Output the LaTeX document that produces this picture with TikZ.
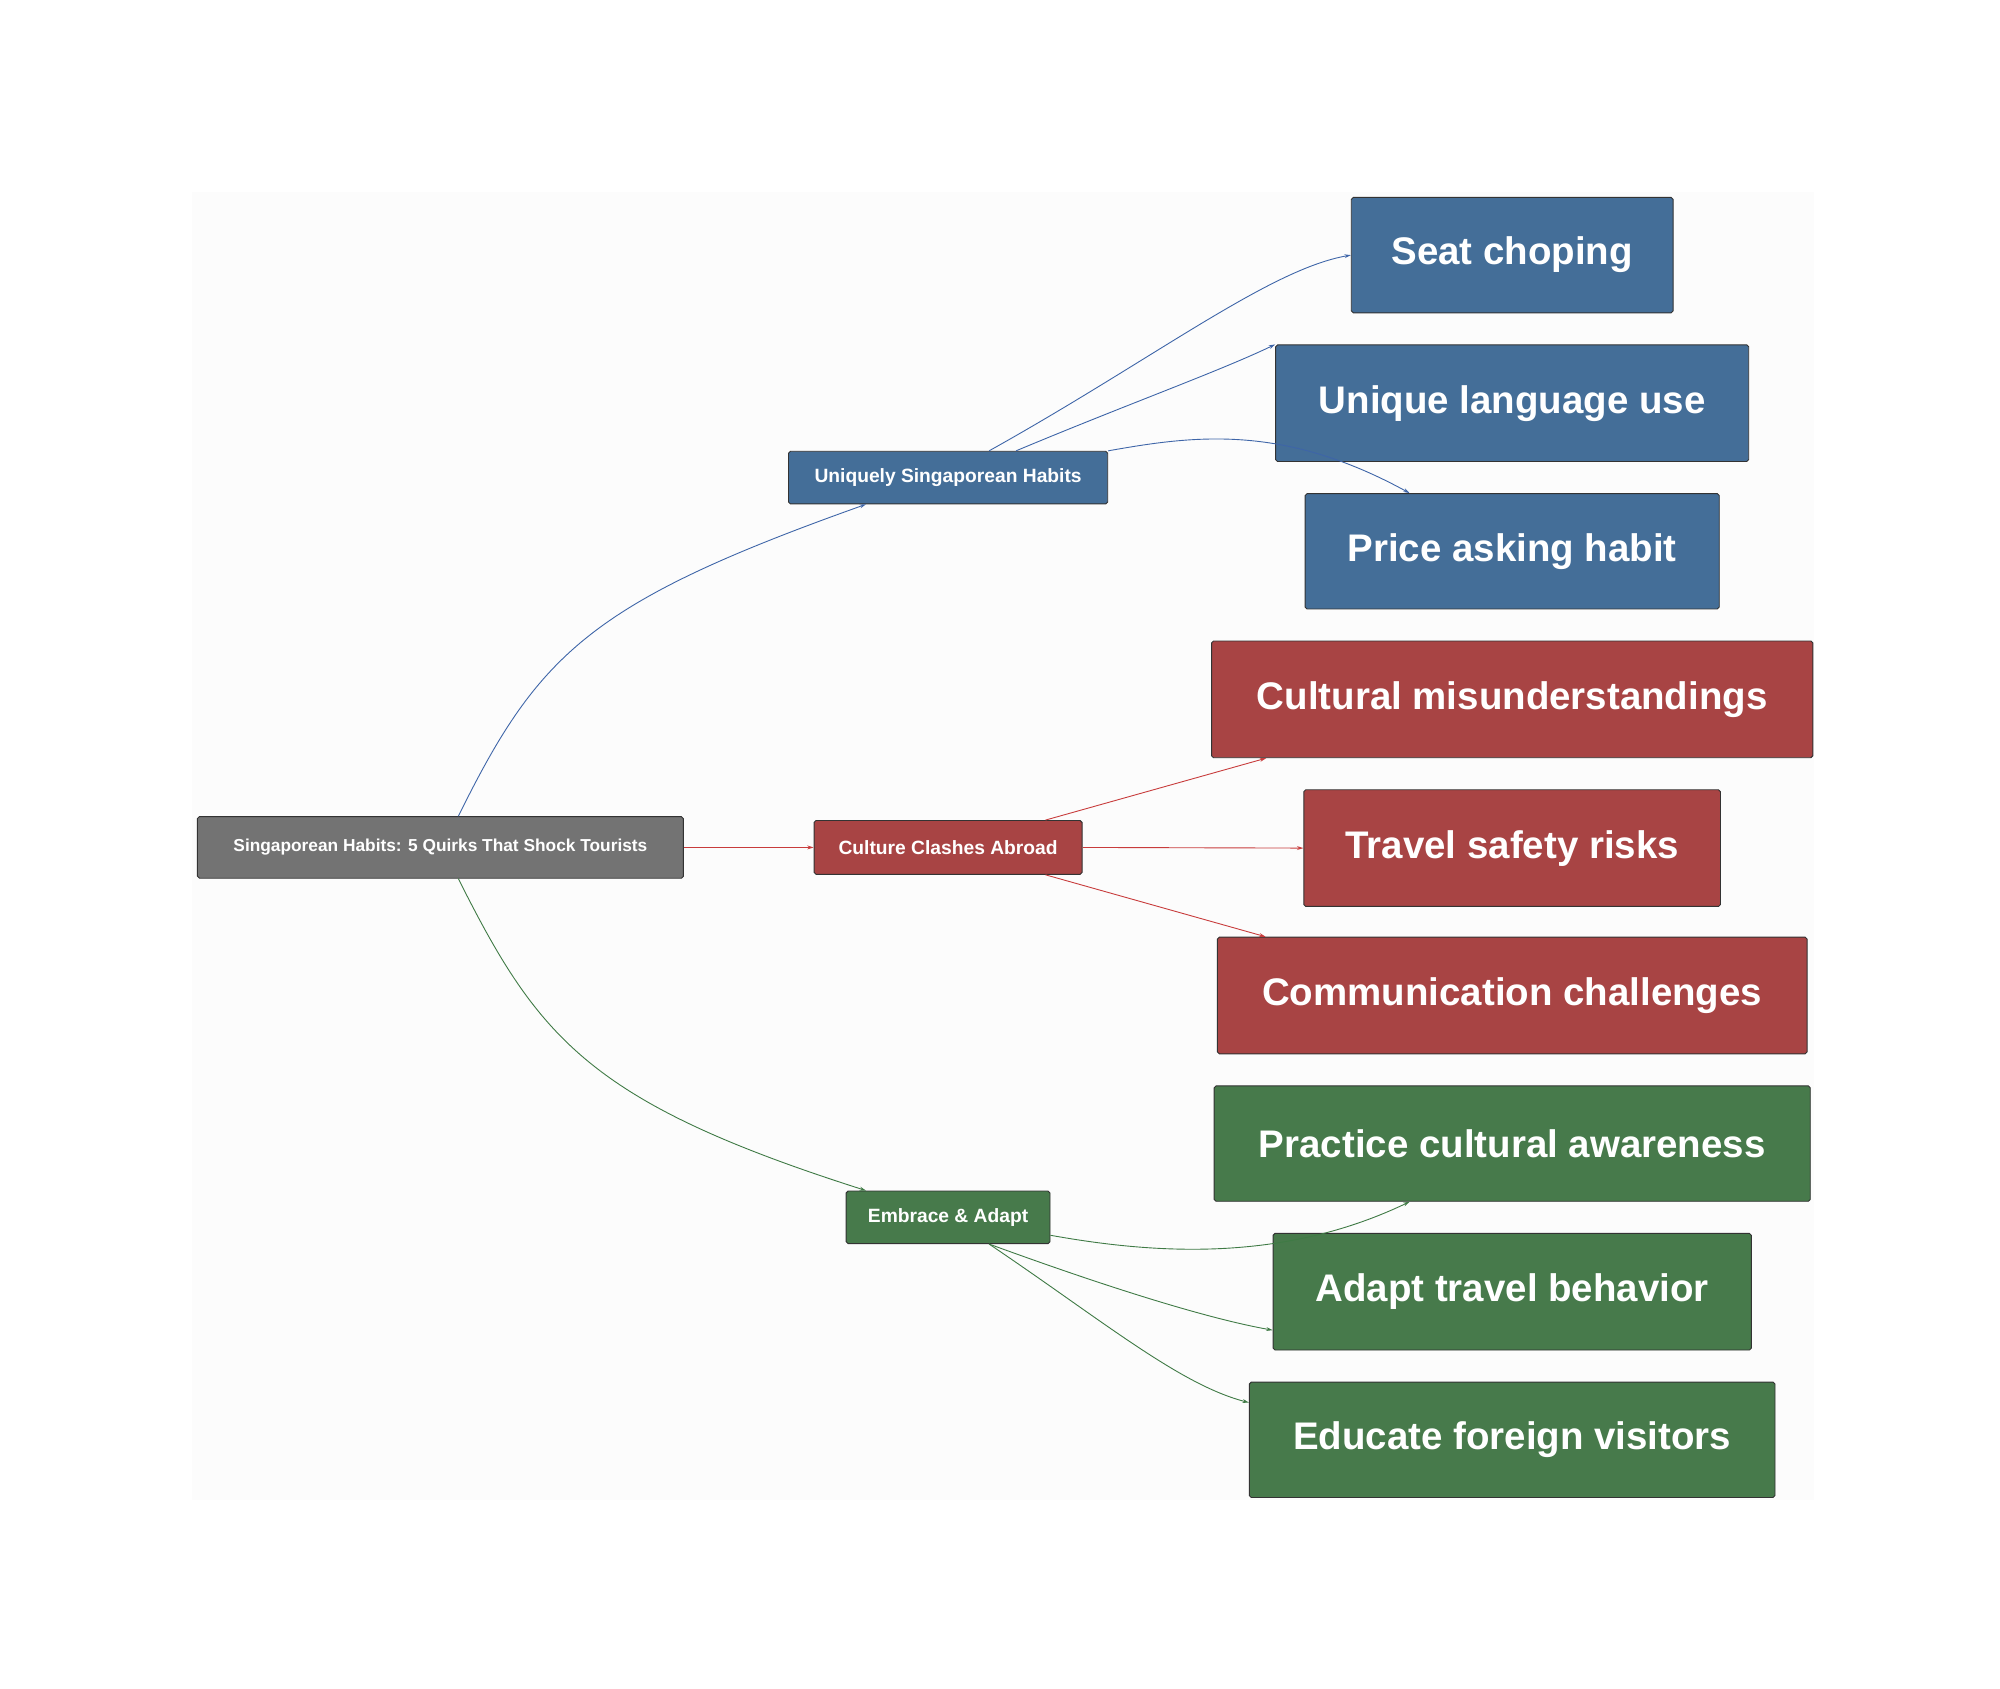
\documentclass[tikz,border=0pt]{standalone}
\usepackage{fontspec}
\setmainfont{Liberation Sans}
\usetikzlibrary{calc,arrows.meta}
\definecolor{cb}{HTML}{446E98}
\definecolor{cr}{HTML}{A84444}
\definecolor{cg}{HTML}{477A4B}
\definecolor{cgr}{HTML}{737373}
\definecolor{eb}{HTML}{3E65A8}
\definecolor{er}{HTML}{C83C3C}
\definecolor{eg}{HTML}{3F7A45}
\tikzset{
 box/.style={draw=black!80,rounded corners=1.5pt,text=white,font=\bfseries,inner sep=0pt,line width=0.7pt},
 leaf/.style={box,font=\fontsize{30}{34}\selectfont\bfseries},
 mid/.style={box,font=\fontsize{15}{17}\selectfont\bfseries},
 ed/.style={-{Stealth[length=5pt,width=3pt]},line width=0.7pt},
}
\begin{document}
\begin{tikzpicture}[x=1pt,y=-1pt]
\useasboundingbox (0,0) rectangle (1560,1317);
\fill[white] (0,0) rectangle (1560,1317);
\fill[black!1] (150,150) rectangle (1415,1170);
\node[box,fill=cgr,minimum width=379,minimum height=48,font=\fontsize{13.5}{15}\selectfont\bfseries] (root) at (343.5,661) {Singaporean Habits: 5 Quirks That Shock Tourists};
\node[mid,fill=cb,minimum width=249,minimum height=41] (mb) at (739.5,372.5) {Uniquely Singaporean Habits};
\node[mid,fill=cr,minimum width=209,minimum height=42] (mr) at (739.5,661) {Culture Clashes Abroad};
\node[mid,fill=cg,minimum width=159,minimum height=41] (mg) at (739.5,949.5) {Embrace \& Adapt};
\node[leaf,fill=cb,minimum width=251,minimum height=90] (l1) at (1179.5,199) {Seat choping};
\node[leaf,fill=cb,minimum width=369,minimum height=91] (l2) at (1179.5,314.5) {Unique language use};
\node[leaf,fill=cb,minimum width=323,minimum height=90] (l3) at (1179.5,430) {Price asking habit};
\node[leaf,fill=cr,minimum width=469,minimum height=91] (l4) at (1179.5,545.5) {Cultural misunderstandings};
\node[leaf,fill=cr,minimum width=325,minimum height=91] (l5) at (1179.5,661.5) {Travel safety risks};
\node[leaf,fill=cr,minimum width=460,minimum height=91] (l6) at (1179.5,776.5) {Communication challenges};
\node[leaf,fill=cg,minimum width=465,minimum height=90] (l7) at (1179.5,892) {Practice cultural awareness};
\node[leaf,fill=cg,minimum width=373,minimum height=91] (l8) at (1179.5,1007.5) {Adapt travel behavior};
\node[leaf,fill=cg,minimum width=410,minimum height=90] (l9) at (1179.5,1123) {Educate foreign visitors};
% root edges
\draw[ed,eb] ($(root.north)+(14,0)$) .. controls (420,510) and (460,470) .. ($(mb.south)+(-64,0)$);
\draw[ed,er] (root.east) -- (mr.west);
\draw[ed,eg] ($(root.south)+(14,0)$) .. controls (420,810) and (460,860) .. ($(mg.north)+(-64,0)$);
% blue
\draw[ed,eb] ($(mb.north)+(32,0)$) .. controls (900,280) and (990,210) .. (l1.west);
\draw[ed,eb] ($(mb.north)+(53,0)$) .. controls (880,315) and (950,290) .. (l2.north west);
\draw[ed,eb] (mb.north east) .. controls (930,340) and (1000,330) .. ($(l3.north)+(-80,0)$);
% red
\draw[ed,er] ($(mr.north)+(76,0)$) -- ($(l4.south west)+(43,0)$);
\draw[ed,er] (mr.east) -- (l5.west);
\draw[ed,er] ($(mr.south)+(76,0)$) -- ($(l6.north west)+(38,0)$);
% green
\draw[ed,eg] ($(mg.east)+(0,14)$) .. controls (900,978) and (1000,985) .. ($(l7.south)+(-80,0)$);
\draw[ed,eg] ($(mg.south)+(32,0)$) .. controls (880,1010) and (950,1030) .. ($(l8.west)+(0,30)$);
\draw[ed,eg] ($(mg.south)+(32,0)$) .. controls (860,1030) and (920,1080) .. ($(l9.west)+(0,-29)$);
\end{tikzpicture}
\end{document}
